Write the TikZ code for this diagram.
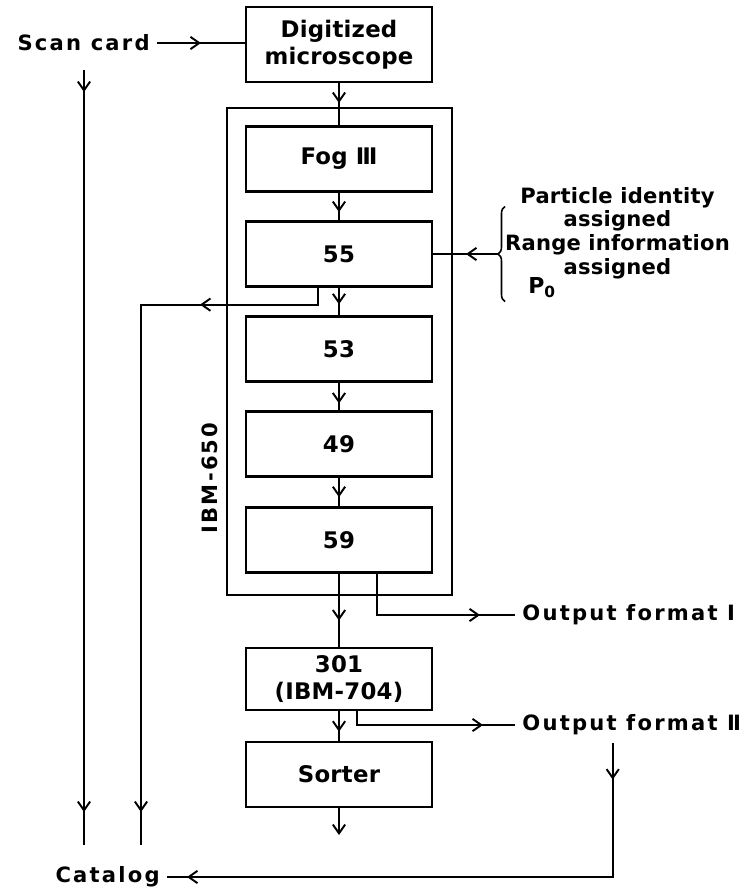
\documentclass[tikz,border=0pt]{standalone}
\usepackage{fontspec}
\setmainfont{DejaVu Sans}[LetterSpace=1]
\newfontfamily\labelfont{DejaVu Sans}[LetterSpace=10.5]
\usetikzlibrary{arrows.meta, decorations.markings, decorations.pathreplacing}

\tikzset{
    block/.style={draw, line width=1.3pt, minimum width=3.72cm, minimum height=1.3cm,
        align=center, font=\bfseries\fontsize{13}{15.5}\selectfont},
    wire/.style={line width=1.1pt},
    barb/.style={-{Straight Barb[length=5pt, width=7pt]}},
    tipat/.style={postaction={decorate, decoration={markings,
        mark=at position #1 with {\arrow{Straight Barb[length=5pt, width=7pt]}}}}},
    lbl/.style={font=\labelfont\bfseries\fontsize{12}{14}\selectfont, inner sep=4pt}
}

\begin{document}
\begin{tikzpicture}
    \useasboundingbox (0,0) rectangle (14.82,-17.86);

    % main column
    \node[block, minimum height=1.5cm] (micro) at (6.78, -0.89) {Digitized\\microscope};
    \node[block] (fog) at (6.78, -3.18) {Fog Ⅲ};
    \node[block] (n55) at (6.78, -5.08) {55};
    \node[block] (n53) at (6.78, -6.98) {53};
    \node[block] (n49) at (6.78, -8.88) {49};
    \node[block] (n59) at (6.78, -10.8) {59};
    \node[draw, line width=0.8pt, minimum width=4.5cm, minimum height=9.74cm] (ibm) at (6.79, -7.03) {};
    \node[lbl, rotate=90] (ibmlbl) at (4.2, -9.56) {IBM-650};
    \node[block, minimum height=1.24cm] (n301) at (6.78, -13.58) {301\\(IBM-704)};
    \node[block] (sorter) at (6.78, -15.49) {Sorter};

    % labels
    \node[lbl, anchor=east] (scan) at (3.14, -0.86) {Scan card};
    \node[lbl, anchor=west] (out1) at (10.3, -12.3) {Output format Ⅰ};
    \node[lbl, anchor=west] (out2) at (10.3, -14.5) {Output format Ⅱ};
    \node[lbl, anchor=east] (catalog) at (3.34, -17.54) {Catalog};
    \node[align=center, inner sep=0pt, font=\bfseries\fontsize{12}{13.4}\selectfont] (info) at (12.35, -4.66)
        {Particle identity\\assigned\\Range information\\assigned};
    \node[anchor=base west, inner sep=0pt, font=\bfseries\fontsize{12.5}{14}\selectfont] (pzero) at (10.56, -5.86) {P\textsubscript{0}};

    \coordinate (bratop) at (10.1, -4.13);
    \coordinate (brabot) at (10.1, -6.03);
    \coordinate (bratip) at (9.96, -5.08);
    \coordinate (scanfoot) at (1.68, -1.4);
    \coordinate (cat1) at (1.68, -16.9);
    \coordinate (cat2) at (2.82, -16.9);
    \coordinate (sortout) at (6.78, -16.7);

    \draw[line width=0.9pt, decorate, decoration={brace, amplitude=0.14cm}] (brabot) -- (bratop);

    % connectors
    \draw[wire, tipat=0.5] (scan.east) -- (scan.east -| micro.west);
    \draw[wire, tipat=0.47] (micro) -- (fog);
    \draw[wire, tipat=0.7] (fog) -- (n55);
    \draw[wire, tipat=0.6] (n55) -- (n53);
    \draw[wire, tipat=0.75] (n53) -- (n49);
    \draw[wire, tipat=0.68] (n49) -- (n59);
    \draw[wire, tipat=0.64] (n59) -- (n301);
    \draw[wire, tipat=0.69] (n301) -- (sorter);
    \draw[wire, barb] (sorter) -- (sortout);
    \draw[wire, tipat=0.64cm] (bratip) -- (n55.east);
    \draw[wire, tipat=0.44cm, tipat=-0.66cm] (scanfoot) -- (cat1);
    \draw[wire, tipat=2.7cm, tipat=-0.66cm] ([xshift=-0.42cm]n55.south) -- ++(0, -0.34) -| (cat2);
    \draw[wire, tipat=-0.7cm] ([xshift=0.76cm]n59.south) |- (out1.west);
    \draw[wire, tipat=-0.64cm] ([xshift=0.36cm]n301.south) |- (out2.west);
    \draw[wire, tipat=0.74cm, tipat=-0.4cm] ([xshift=-0.38cm]out2.south) |- (catalog.east);
\end{tikzpicture}
\end{document}
